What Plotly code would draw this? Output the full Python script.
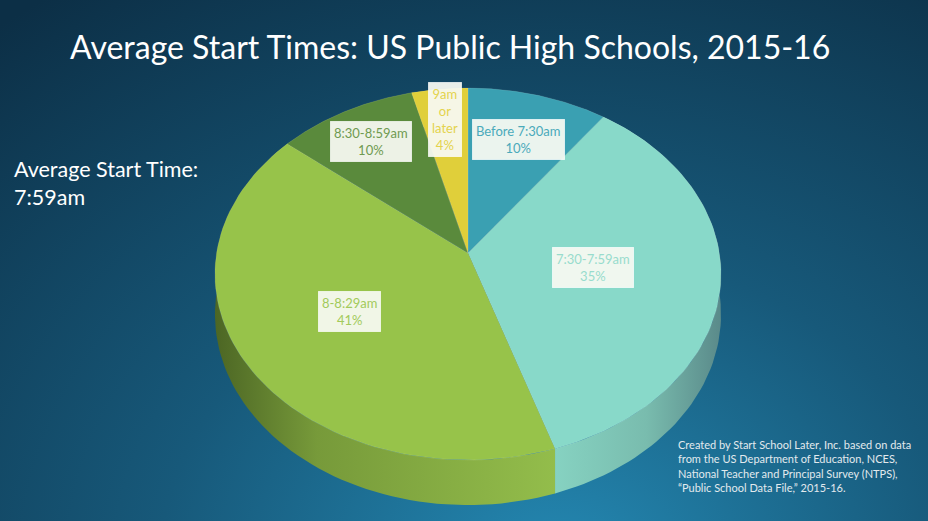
import base64
import math

import numpy as np
import plotly.graph_objects as go

# Chart data
CATEGORIES = ['Before 7:30am', '7:30-7:59am', '8-8:29am', '8:30-8:59am', '9am or later']
LABEL_TEXT = ['Before 7:30am', '7:30-7:59am', '8-8:29am', '8:30-8:59am', '9am<br>or<br>later']
SHARES = [10, 35, 41, 10, 4]
AVG_START = '7:59am'
TITLE = 'Average Start Times: US Public High Schools, 2015-16'
SOURCE_LINES = [
  'Created by Start School Later, Inc. based on data',
  'from the US Department of Education, NCES,',
  'National Teacher and Principal Survey (NTPS),',
  '\u201cPublic School Data File,\u201d 2015-16.',
]

# Styling
FONT = 'Lato'
TOP_COLORS = ['#3aa0b2', '#88d9c9', '#97c34a', '#5a8a3c', '#e0cf3a']
TEXT_COLORS = ['#4aaabb', '#98dccd', '#a2ca5a', '#6f9a50', '#e4d34c']
SIDE_SCALES = [
  [[0, '#2c7a88'], [1, '#2c7a88']],
  [[0, '#86d2c1'], [0.55, '#79bcae'], [1, '#5a8a8a']],
  [[0, '#4c6624'], [0.3, '#779a3a'], [1, '#93bd4b']],
  [[0, '#46702e'], [1, '#46702e']],
  [[0, '#b8a82c'], [1, '#b8a82c']],
]
LABEL_R = [0.7, 0.5, 0.55, 0.77, 0.8]

# pie geometry (screen pixels), simple perspective tilt
CX, CY = 468, 253
A, B, P = 251.4, 183.6, 0.113
DEPTH = 40


def proj(r, theta):
  u = r * np.sin(theta)
  v = r * np.cos(theta)
  w = 1 + P * v
  return CX + A * u / w, CY - B * v / w, w


fig = go.Figure()

total = sum(SHARES)
bounds = np.cumsum([0] + SHARES) / total * 2 * math.pi

# sides first, top faces over them
for i in range(len(SHARES)):
  t = np.linspace(bounds[i], bounds[i + 1], 80)
  x, y, w = proj(1, t)
  xs = list(x) + list(x[::-1])
  ys = list(y) + list((y + DEPTH / w)[::-1])
  fig.add_trace(go.Scatter(
    x=xs, y=ys, mode='lines', fill='toself',
    line=dict(width=0),
    fillgradient=dict(type='horizontal', colorscale=SIDE_SCALES[i]),
    hoverinfo='skip', showlegend=False
  ))

for i in range(len(SHARES)):
  t = np.linspace(bounds[i], bounds[i + 1], 80)
  x, y, _ = proj(1, t)
  xs = [CX] + list(x) + [CX]
  ys = [CY] + list(y) + [CY]
  fig.add_trace(go.Scatter(
    x=xs, y=ys, mode='lines', fill='toself',
    fillcolor=TOP_COLORS[i],
    line=dict(width=0.6, color='rgba(255,255,255,0.18)'),
    name=CATEGORIES[i], hoverinfo='name', showlegend=False
  ))

# slice labels
annotations = []
for i in range(len(SHARES)):
  mid = (bounds[i] + bounds[i + 1]) / 2
  lx, ly, _ = proj(LABEL_R[i], mid)
  annotations.append(dict(
    x=float(lx), y=float(ly), xref='x', yref='y', showarrow=False,
    text=f'{LABEL_TEXT[i]}<br>{SHARES[i]}%',
    font=dict(family=FONT, size=13, color=TEXT_COLORS[i]),
    bgcolor='rgba(246,249,241,0.94)', bordercolor='rgba(255,255,255,0.7)',
    borderwidth=1, borderpad=3
  ))

annotations.append(dict(
  x=450, y=46, xref='x', yref='y', showarrow=False,
  text=TITLE, font=dict(family=FONT, size=32, color='white')
))
annotations.append(dict(
  x=12, y=183, xref='x', yref='y', showarrow=False, xanchor='left', align='left',
  text=f'Average Start Time:<br>{AVG_START}',
  font=dict(family=FONT, size=21.5, color='white')
))
annotations.append(dict(
  x=676, y=466, xref='x', yref='y', showarrow=False, xanchor='left', align='left',
  text='<br>'.join(SOURCE_LINES),
  font=dict(family=FONT, size=11, color='#e2eaee')
))

svg = (
  '<svg xmlns="http://www.w3.org/2000/svg" width="928" height="521" preserveAspectRatio="none">'
  '<defs><radialGradient id="g" cx="0.6" cy="1.08" r="0.95" gradientTransform="translate(0.6 1.08) scale(1 1.4) translate(-0.6 -1.08)">'
  '<stop offset="0" stop-color="#2488b2"/>'
  '<stop offset="0.45" stop-color="#17597a"/>'
  '<stop offset="1" stop-color="#0c2f46"/>'
  '</radialGradient></defs>'
  '<rect width="928" height="521" fill="url(#g)"/></svg>'
)
bg = 'data:image/svg+xml;base64,' + base64.b64encode(svg.encode()).decode()

fig.update_layout(
  width=928, height=521,
  margin=dict(l=0, r=0, t=0, b=0),
  paper_bgcolor='#123f5a',
  plot_bgcolor='rgba(0,0,0,0)',
  xaxis=dict(range=[0, 928], visible=False, fixedrange=True),
  yaxis=dict(range=[521, 0], visible=False, fixedrange=True),
  images=[dict(
    source=bg, xref='paper', yref='paper', x=0, y=1,
    sizex=1, sizey=1, sizing='stretch', layer='below'
  )],
  annotations=annotations,
  showlegend=False
)

fig.write_html(
  'out.html',
  config=dict(displayModeBar=False),
  post_script="document.body.style.margin='0';document.body.style.overflow='hidden';"
)
